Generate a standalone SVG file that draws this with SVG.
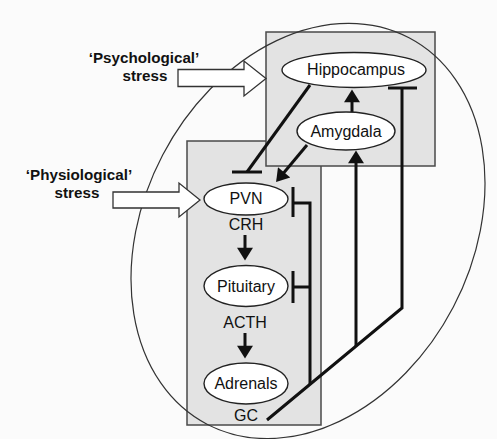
<svg xmlns="http://www.w3.org/2000/svg" width="497" height="439" viewBox="0 0 497 439">
<style>
.box{fill:#e3e3e3;stroke:#4a4a4a;stroke-width:1.5}
.node{fill:#ffffff;stroke:#222;stroke-width:1.4}
.lbl{font-family:"Liberation Sans",Arial,sans-serif;font-size:16px;fill:#111;text-anchor:middle}
.in{font-family:"Liberation Sans",Arial,sans-serif;font-size:15.2px;font-weight:bold;fill:#111;text-anchor:middle}
.blk{fill:#ffffff;stroke:#333;stroke-width:1.3;stroke-linejoin:miter}
.c{fill:none;stroke:#111;stroke-width:3;stroke-linejoin:miter}
.act{marker-end:url(#ah)}
</style>
<defs>
<marker id="ah" markerUnits="userSpaceOnUse" markerWidth="16" markerHeight="16" viewBox="0 0 12 14" refX="1" refY="7" orient="auto">
<path d="M0,0 L11,7 L0,14 z" fill="#111"/>
</marker>
</defs>
<rect width="497" height="439" fill="#fbfbfb"/>
<g id="brain-box"><rect class="box" x="187" y="141" width="134" height="284"/></g>
<g id="limbic-box"><rect class="box" x="266" y="32" width="169" height="134"/></g>
<g id="boundary"><ellipse cx="308" cy="231" rx="164" ry="218" transform="rotate(27.6 308 231)" fill="none" stroke="#333" stroke-width="1.2"/></g>
<g id="psychological-stress">
<polygon class="blk" points="178,69.5 244,69.5 244,61 266,78.5 244,96 244,86.5 178,86.5"/>
<text class="in" x="144" y="63">‘Psychological’</text>
<text class="in" x="145" y="80.5">stress</text>
</g>
<g id="physiological-stress">
<polygon class="blk" points="113,192 179,192 179,183 200,200 179,217 179,208 113,208"/>
<text class="in" x="79" y="180">‘Physiological’</text>
<text class="in" x="77" y="197.5">stress</text>
</g>
<g id="connectors">
<line class="c" x1="310" y1="85" x2="247" y2="172"/>
<line class="c" x1="232" y1="172" x2="262" y2="172"/>
<line class="c act" x1="307" y1="145" x2="283.4" y2="173.3"/>
<line class="c act" x1="352" y1="112" x2="352" y2="101"/>
<line class="c act" x1="245" y1="235" x2="245" y2="249"/>
<line class="c act" x1="245" y1="333" x2="245" y2="347"/>
<polyline class="c" points="267,420 402,308 402,88"/>
<line class="c" x1="388" y1="88" x2="417" y2="88"/>
<line class="c act" x1="356" y1="346" x2="356" y2="162"/>
<polyline class="c" points="310,384 310,203 293,203"/>
<line class="c" x1="293" y1="187" x2="293" y2="217"/>
<line class="c" x1="310" y1="287" x2="293" y2="287"/>
<line class="c" x1="293" y1="271" x2="293" y2="303"/>
</g>
<g id="hippocampus"><ellipse class="node" cx="354" cy="70" rx="72" ry="17.5"/><text class="lbl" x="356" y="75">Hippocampus</text></g>
<g id="amygdala"><ellipse class="node" cx="346" cy="131" rx="49" ry="19"/><text class="lbl" x="346" y="137">Amygdala</text></g>
<g id="pvn"><ellipse class="node" cx="246" cy="199" rx="42" ry="16"/><text class="lbl" x="246" y="204">PVN</text></g>
<g id="crh"><text class="lbl" x="246" y="230">CRH</text></g>
<g id="pituitary"><ellipse class="node" cx="246" cy="286" rx="42" ry="20.5"/><text class="lbl" x="246" y="292">Pituitary</text></g>
<g id="acth"><text class="lbl" x="245" y="328">ACTH</text></g>
<g id="adrenals"><ellipse class="node" cx="246" cy="383.5" rx="42" ry="20.5"/><text class="lbl" x="246" y="389">Adrenals</text></g>
<g id="gc"><text class="lbl" x="246" y="421">GC</text></g>
</svg>
